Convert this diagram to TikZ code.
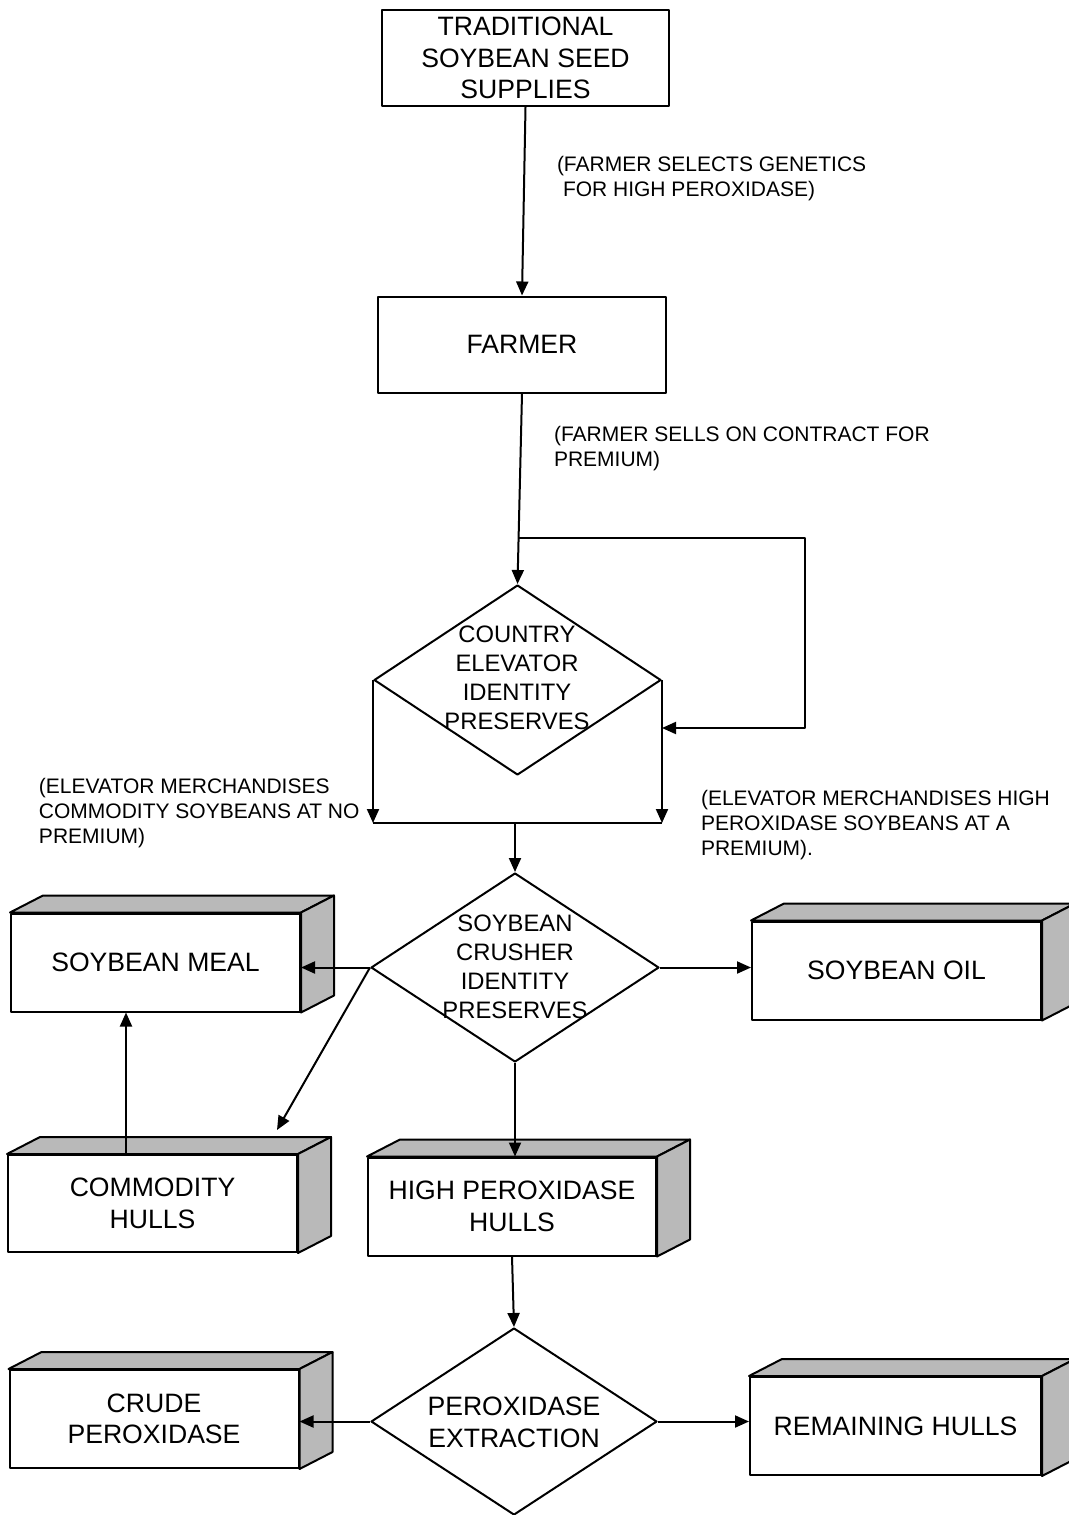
\documentclass[tikz,border=0pt]{standalone}
\usepackage{fontspec}
\setmainfont{Liberation Sans}
\usetikzlibrary{shapes.geometric,arrows.meta,calc}
\newcommand\boxfaces[1]{%
  \filldraw[fill=gray!55] (#1.north west) -- ++(33,-17) -- ($(#1.north east)+(33,-17)$) -- (#1.north east) -- cycle;
  \filldraw[fill=gray!55] (#1.north east) -- ++(33,-17) -- ($(#1.south east)+(33,-17)$) -- (#1.south east) -- cycle;}
\begin{document}
\begin{tikzpicture}[x=0.5pt,y=-0.5pt,line width=1pt,line join=round,
  arr/.style={-{Triangle[length=7pt,width=6pt]}},
  flatbox/.style={draw,rectangle,minimum width=144pt,minimum height=48pt,
    font=\fontsize{13.3}{15.7}\selectfont,align=center,inner sep=0pt},
  solidbox/.style={flatbox,minimum width=144.5pt,minimum height=49pt},
  dia/.style={draw,diamond,inner sep=0pt},
  diatext/.style={font=\fontsize{11.9}{14.5}\selectfont,align=center,inner sep=0pt},
  note/.style={font=\fontsize{10.5}{12.5}\selectfont,align=left,anchor=west,inner sep=0pt}]
\useasboundingbox (0,0) rectangle (1069,1515);

% flat boxes
\node[flatbox,minimum width=143.5pt] (src) at (525.5,58) {TRADITIONAL\\SOYBEAN SEED\\SUPPLIES};
\node[flatbox] (farmer) at (522,344.5) {FARMER};

% diamonds
\node[dia,minimum width=143.5pt,minimum height=95pt] (d1) at (517.5,680) {};
\node[diatext] (d1t) at (517,678) {COUNTRY\\ELEVATOR\\IDENTITY\\PRESERVES};
\node[dia,minimum width=144pt,minimum height=94.5pt] (d2) at (515,967.5) {};
\node[diatext] (d2t) at (515,966.5) {SOYBEAN\\CRUSHER\\IDENTITY\\PRESERVES};
\node[dia,minimum width=143pt,minimum height=93.5pt] (d3) at (514,1421.5) {};
\node[diatext,font=\fontsize{13.3}{16}\selectfont] (d3t) at (514,1422) {PEROXIDASE\\EXTRACTION};

% 3D boxes
\node[solidbox] (meal) at (155.5,962.5) {SOYBEAN MEAL};
\node[solidbox] (oil) at (896.5,970.5) {SOYBEAN OIL};
\node[solidbox,minimum height=48.5pt] (chulls) at (152.5,1203.5) {COMMODITY\\HULLS};
\node[solidbox,minimum width=144pt] (hph) at (512,1206.5) {HIGH PEROXIDASE\\HULLS};
\node[solidbox] (crude) at (154,1419) {CRUDE\\PEROXIDASE};
\node[solidbox,minimum width=145.5pt] (rem) at (895.5,1426) {REMAINING HULLS};
\boxfaces{meal}
\boxfaces{oil}
\boxfaces{chulls}
\boxfaces{hph}
\boxfaces{crude}
\boxfaces{rem}

% notes
\node[note] (n1) at (556,178.5) {(FARMER SELECTS GENETICS\\\hspace{3pt}FOR HIGH PEROXIDASE)};
\node[note] (n2) at (553,448.5) {(FARMER SELLS ON CONTRACT FOR\\PREMIUM)};
\node[note] (n3) at (38,813) {(ELEVATOR MERCHANDISES\\COMMODITY SOYBEANS AT NO\\PREMIUM)};
\node[note] (n4) at (700,825) {(ELEVATOR MERCHANDISES HIGH\\PEROXIDASE SOYBEANS AT A\\PREMIUM).};

% connectors
\draw[arr] (src.south) -- (farmer.north);
\draw[arr] (farmer.south) -- (d1.north);
\coordinate (j1) at ($(farmer.south)!0.756!(d1.north)$);
\coordinate (lp) at (805,728);
\draw[arr] (j1) -| (lp) -- (lp -| d1.east);
\draw[arr] (d1.west) -- ++(0,143) coordinate (cl);
\draw[arr] (d1.east) -- ++(0,143) coordinate (cr);
\draw (cl) -- (cr);
\draw[arr] (cl -| d2.north) -- (d2.north);
\draw[arr] (d2.west) -- (d2.west -| meal.east);
\draw[arr] (d2.east) -- (d2.east -| oil.west);
\coordinate (chtip) at (277,1130);
\draw[arr] (d2.west) -- (chtip);
\draw[arr] (d2.south) -- (d2.south |- hph.north);
\draw[arr] (hph.south) -- (d3.north);
\draw[arr] (d3.west) -- (d3.west -| crude.east);
\draw[arr] (d3.east) -- (d3.east -| rem.west);
\coordinate (cu) at ($(chulls.north west)+(119,0)$);
\draw[arr] (cu) -- (cu |- meal.south);
\end{tikzpicture}
\end{document}
